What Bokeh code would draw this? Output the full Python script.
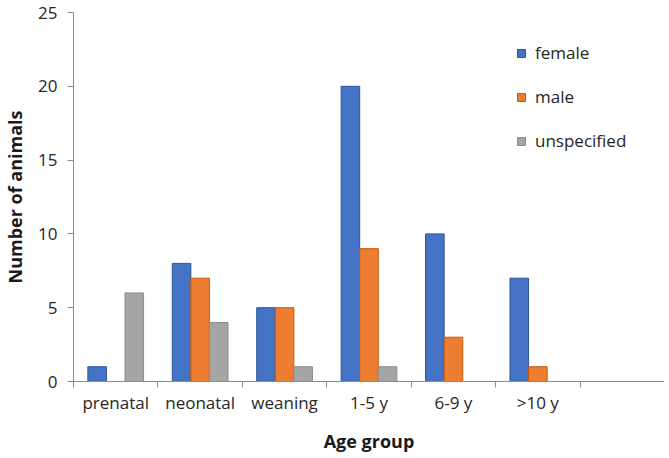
from bokeh.plotting import figure
from bokeh.models import ColumnDataSource, Range1d, FixedTicker, Legend, LegendItem
from bokeh.embed import file_html
from bokeh.resources import INLINE

categories = ["prenatal", "neonatal", "weaning", "1-5 y", "6-9 y", ">10 y", ""]
female = [1, 8, 5, 20, 10, 7]
male = [0, 7, 5, 9, 3, 1]
unspecified = [6, 4, 1, 1, 0, 0]
series_names = ["female", "male", "unspecified"]
colors = ["#4472C4", "#ED7D31", "#A5A5A5"]
edges = ["#2F5597", "#C55A11", "#8C8C8C"]
y_ticks = [0, 5, 10, 15, 20, 25]

FONT = "Open Sans"
ncat = len(categories)
bar_w = 0.22
offsets = [-bar_w, 0.0, bar_w]

p = figure(width=664, height=455, output_backend="svg", toolbar_location=None,
           x_range=Range1d(0, ncat), y_range=Range1d(0, 25),
           min_border_left=70, min_border_right=0, min_border_top=12, min_border_bottom=0)
p.outline_line_color = None
p.xgrid.visible = False
p.ygrid.visible = False

renderers = []
for name, vals, off, c, e in zip(series_names, [female, male, unspecified], offsets, colors, edges):
    src = ColumnDataSource(dict(x=[i + 0.5 + off for i in range(len(vals))], top=vals))
    r = p.vbar(x="x", top="top", width=bar_w, source=src, fill_color=c, line_color=e, line_width=1)
    renderers.append(r)

# x axis
xa = p.xaxis[0]
xa.ticker = FixedTicker(ticks=[i + 0.5 for i in range(ncat)], minor_ticks=list(range(ncat + 1)))
xa.major_label_overrides = {i + 0.5: categories[i] for i in range(ncat)}
xa.major_tick_line_color = None
xa.minor_tick_line_color = "#8C8C8C"
xa.minor_tick_in = 0
xa.minor_tick_out = 6
xa.axis_line_color = "#8C8C8C"
xa.major_label_text_font = FONT
xa.major_label_text_font_size = "17px"
xa.major_label_text_color = "#262626"
xa.major_label_standoff = 3
xa.axis_label = "Age group"
xa.axis_label_text_font = FONT
xa.axis_label_text_font_size = "18px"
xa.axis_label_text_font_style = "bold"
xa.axis_label_text_color = "#1a1a1a"
xa.axis_label_standoff = 12

# y axis
ya = p.yaxis[0]
ya.ticker = FixedTicker(ticks=y_ticks)
ya.minor_tick_line_color = None
ya.major_tick_line_color = "#8C8C8C"
ya.major_tick_in = 0
ya.major_tick_out = 6
ya.axis_line_color = "#8C8C8C"
ya.major_label_text_font = FONT
ya.major_label_text_font_size = "17px"
ya.major_label_text_color = "#262626"
ya.major_label_standoff = 10
ya.axis_label = "Number of animals"
ya.axis_label_text_font = FONT
ya.axis_label_text_font_size = "18px"
ya.axis_label_text_font_style = "bold"
ya.axis_label_text_color = "#1a1a1a"
ya.axis_label_standoff = 8

legend = Legend(items=[LegendItem(label=n, renderers=[r]) for n, r in zip(series_names, renderers)],
                location=(443, 229), orientation="vertical",
                glyph_width=10, glyph_height=10, label_standoff=9, spacing=21,
                padding=0, margin=0, border_line_color=None, background_fill_alpha=0,
                label_text_font=FONT, label_text_font_size="17px", label_text_color="#262626")
p.add_layout(legend, "center")

open("out.html", "w").write(file_html(p, INLINE))
